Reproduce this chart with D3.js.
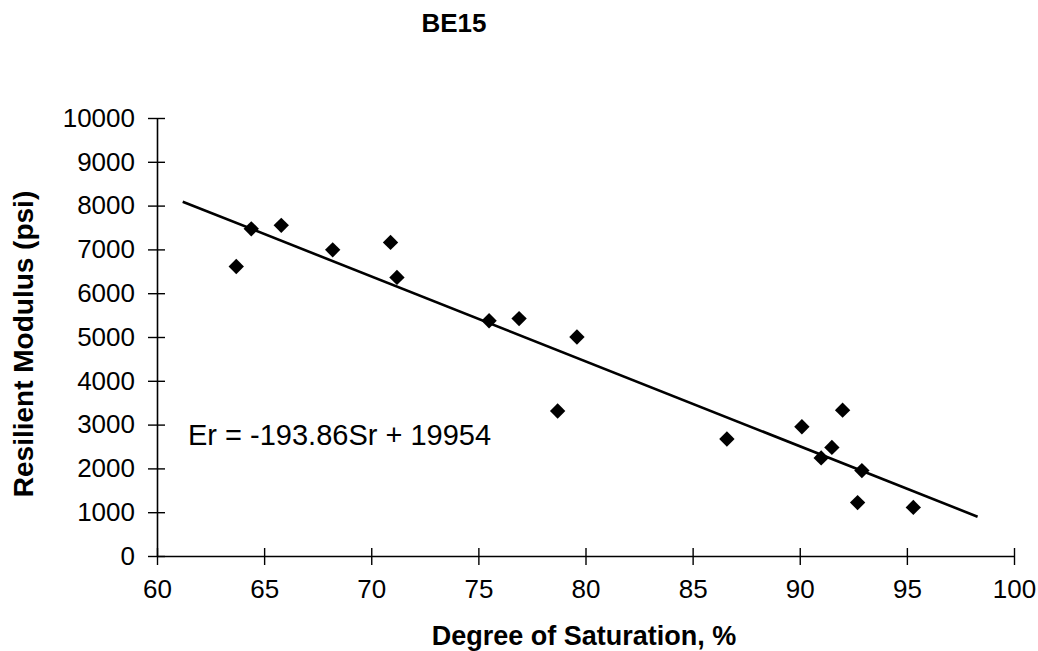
<!DOCTYPE html>
<html>
  <head>
    <title>BE15</title>
    <style>
      body { margin: 0; background: #fff; }
      text { font-family: 'Liberation Sans', Arial, sans-serif; fill: #000; }
    </style>
  </head>
  <body>
    <div class="chart"></div>
    <script src="https://d3js.org/d3.v7.min.js"></script>
    <script type="text/javascript">
      // data
      var saturation = [63.7, 64.4, 65.8, 68.2, 70.9, 71.2, 75.5, 76.9, 79.6, 78.7, 86.6, 90.1, 92.0, 91.5, 91.0, 92.9, 92.7, 95.3];
      var modulus    = [6610, 7470, 7550, 6990, 7160, 6360, 5370, 5420, 5000, 3310, 2670, 2950, 3330, 2480, 2240, 1950, 1220, 1110];
      var xTicks = [60, 65, 70, 75, 80, 85, 90, 95, 100];
      var yTicks = [0, 1000, 2000, 3000, 4000, 5000, 6000, 7000, 8000, 9000, 10000];
      // trendline Er = -193.86Sr + 19954
      var slope = -193.86, intercept = 19954;
      var trendRange = [61.2, 98.3];

      var width = 1038, height = 651;

      var svg = d3.select(".chart")
        .append("svg")
        .attr("width", width)
        .attr("height", height);

      var x = d3.scaleLinear().domain([60, 100]).range([157, 1014]);
      var y = d3.scaleLinear().domain([0, 10000]).range([556, 118]);

      //axes with ticks crossing the line
      var xAxis = d3.axisBottom(x).tickValues(xTicks).tickSizeInner(9).tickSizeOuter(0).tickFormat(d3.format("d"));
      var gX = svg.append("g")
        .attr("transform", "translate(0," + y(0) + ")")
        .call(xAxis);
      gX.selectAll(".tick line").attr("y1", -8);

      var yAxis = d3.axisLeft(y).tickValues(yTicks).tickSizeInner(9).tickSizeOuter(0).tickFormat(d3.format("d"));
      var gY = svg.append("g")
        .attr("transform", "translate(" + x(60) + ",0)")
        .call(yAxis);
      gY.selectAll(".tick line").attr("x1", 8);

      svg.selectAll(".domain").attr("stroke", "#000").attr("stroke-width", 1.6);
      svg.selectAll(".tick line").attr("stroke", "#000").attr("stroke-width", 1.4);
      svg.selectAll(".tick text")
        .attr("font-family", "'Liberation Sans', Arial, sans-serif")
        .attr("font-size", 26)
        .attr("fill", "#000");
      gX.selectAll(".tick text").attr("y", 24);
      gY.selectAll(".tick text").attr("x", -22);

      // trendline
      var line = d3.line()
        .x(function(d) { return x(d); })
        .y(function(d) { return y(slope * d + intercept); });
      svg.append("path")
        .datum(trendRange)
        .attr("d", line)
        .attr("fill", "none")
        .attr("stroke", "#000")
        .attr("stroke-width", 2.6);

      // diamond markers
      var points = saturation.map(function(s, i) { return {s: s, e: modulus[i]}; });
      svg.selectAll("path.pt")
        .data(points)
        .enter()
        .append("path")
        .attr("class", "pt")
        .attr("d", d3.symbol().type(d3.symbolSquare).size(118))
        .attr("transform", function(d) {
          return "translate(" + x(d.s) + "," + y(d.e) + ") rotate(45)";
        })
        .attr("fill", "#000");

      // texts
      svg.append("text")
        .attr("x", 454).attr("y", 32)
        .attr("text-anchor", "middle")
        .attr("font-size", 26).attr("font-weight", "bold")
        .text("BE15");

      svg.append("text")
        .attr("x", 584).attr("y", 645)
        .attr("text-anchor", "middle")
        .attr("font-size", 27).attr("font-weight", "bold")
        .text("Degree of Saturation, %");

      svg.append("text")
        .attr("transform", "translate(33,344) rotate(-90)")
        .attr("text-anchor", "middle")
        .attr("font-size", 28).attr("font-weight", "bold")
        .text("Resilient Modulus (psi)");

      svg.append("text")
        .attr("x", 188).attr("y", 445)
        .attr("font-size", 29)
        .text("Er = -193.86Sr + 19954");
    </script>
  </body>
</html>
